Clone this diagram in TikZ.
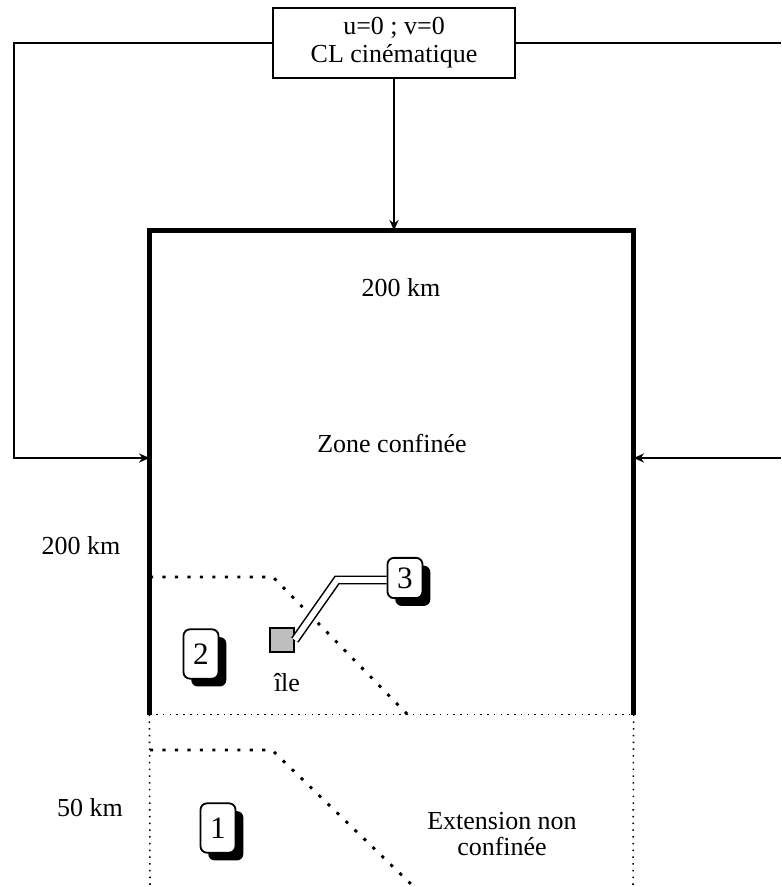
\documentclass[tikz,border=0pt]{standalone}
\usepackage{fontspec}
\setmainfont{Liberation Serif}
\usepackage{tikz}
\usetikzlibrary{shapes,arrows.meta,positioning,calc,shadows}
\definecolor{islegray}{RGB}{190,190,190}
\tikzstyle{clbox} = [rectangle, draw, line width=0.8pt,
                     minimum width=93.5pt, minimum height=27pt,
                     inner sep=0pt, align=center]
\tikzstyle{numbox} = [rectangle, draw, rounded corners=2.5pt,
                      fill=white, line width=0.7pt, inner sep=0pt,
                      minimum width=13.5pt, minimum height=19pt, font=\large,
                      drop shadow={shadow xshift=3pt, shadow yshift=-3pt,
                                   fill=black, opacity=1}]
\tikzstyle{arrow} = [-{Stealth[length=4pt,width=3.5pt]}, line width=0.8pt]
\tikzstyle{plain} = [line width=0.8pt]
\tikzstyle{limit} = [line width=1.1pt, dash pattern=on 1.2pt off 3.6pt]
\tikzstyle{openside} = [line width=0.6pt, dotted]

\begin{document}
\begin{tikzpicture}[x=0.385pt, y=-0.385pt]
    \useasboundingbox (0,0) rectangle (781,887);

    % Boundary condition box and zone
    \node[clbox] (cl) at (394,43) {u=0 ; v=0\\[-1.2pt]CL cinématique};
    \node[minimum width=186pt, minimum height=186pt, inner sep=0pt] (zone) at (391.5,472.5) {};
    \draw[line width=2pt] (zone.south west) -- (zone.north west) -- (zone.north east) -- (zone.south east);
    \draw[openside] (zone.south west) -- (zone.south east);

    % Unconfined extension
    \coordinate (extl) at (150,887);
    \coordinate (extr) at (633,887);
    \draw[openside] (zone.south west) -- (extl);
    \draw[openside] (zone.south east) -- (extr);

    % Kinematic conditions
    \coordinate (lx) at (14,458);
    \coordinate (rtop) at (781,43);
    \coordinate (rmid) at (781,458);
    \draw[arrow] (cl.south) -- (cl.south |- zone.north);
    \draw[arrow] (cl.west) -| (lx) -- (lx -| zone.west);
    \draw[plain] (cl.east) -- (rtop);
    \draw[arrow] (rmid) -- (rmid -| zone.east);

    % Zone limits
    \coordinate (a1) at (150,577);
    \coordinate (a2) at (273,577);
    \coordinate (a3) at (407,714);
    \draw[limit] (a1) -- (a2) -- (a3);
    \coordinate (b1) at (150,750);
    \coordinate (b2) at (272,750);
    \coordinate (b3) at (414,887);
    \draw[limit] (b1) -- (b2) -- (b3);

    % Labels
    \node (ktop) at (401,288) {200 km};
    \node (zconf) at (392,443) {Zone confinée};
    \node (kleft) at (81,546) {200 km};
    \node (kext) at (90,808) {50 km};
    \node[align=center] (ext) at (502,834) {Extension non\\[-2pt]confinée};

    % Island and numbered points
    \node[draw, line width=0.9pt, fill=islegray, minimum size=9pt, inner sep=0pt] (ile) at (282,640) {};
    \node (ilelab) at (287,683) {île};
    \foreach \n/\px/\py/\h in {1/218/828/19pt, 2/201/654/19pt, 3/405/578/15.5pt} {
        \node[numbox, minimum height=\h] (p\n) at (\px,\py) {\n};
    }
    \coordinate (bend) at (337,580);
    \draw[double, line width=0.6pt, double distance=2.2pt] (ile.east) -- (bend) -- (bend -| p3.west);
\end{tikzpicture}
\end{document}
